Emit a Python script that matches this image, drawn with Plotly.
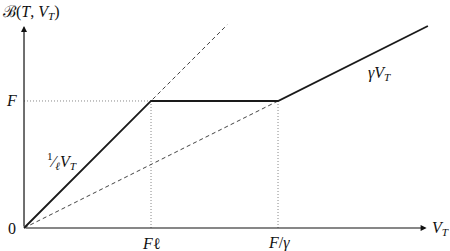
import plotly.graph_objects as go

# Data (model units: F = 1, Fℓ = 1, F/γ = 2)
F_level = 1.0
F_ell = 1.0
F_over_gamma = 2.0
x_end = 3.18
payoff_x = [0.0, F_ell, F_over_gamma, x_end]
payoff_y = [0.0, F_level, F_level, 1.59]
steep_x = [0.0, 1.6]
steep_y = [0.0, 1.6]
shallow_x = [0.0, F_over_gamma]
shallow_y = [0.0, F_level]
x_axis_max = 3.17
y_axis_max = 1.59

FONT = dict(family="Liberation Serif, DejaVu Serif, serif", size=16, color="#111")

fig = go.Figure()
dot = dict(color="#888", width=1, dash="1px,2px")
fig.add_trace(go.Scatter(x=[0, F_ell], y=[F_level, F_level], mode="lines", line=dot, hoverinfo="skip"))
fig.add_trace(go.Scatter(x=[F_ell, F_ell], y=[0, F_level], mode="lines", line=dot, hoverinfo="skip"))
fig.add_trace(go.Scatter(x=[F_over_gamma, F_over_gamma], y=[0, F_level], mode="lines", line=dot, hoverinfo="skip"))
dash = dict(color="#444", width=1, dash="4px,3px")
fig.add_trace(go.Scatter(x=steep_x, y=steep_y, mode="lines", line=dash, hoverinfo="skip"))
fig.add_trace(go.Scatter(x=shallow_x, y=shallow_y, mode="lines", line=dash, hoverinfo="skip"))
fig.add_trace(go.Scatter(x=payoff_x, y=payoff_y, mode="lines",
                         line=dict(color="#1a1a1a", width=1.8), hoverinfo="skip"))

fig.add_annotation(x=x_axis_max, y=0, ax=0, ay=0, xref="x", yref="y", axref="x", ayref="y",
                   showarrow=True, arrowhead=2, arrowsize=1, arrowwidth=1.2, arrowcolor="#111", text="")
fig.add_annotation(x=0, y=y_axis_max, ax=0, ay=0, xref="x", yref="y", axref="x", ayref="y",
                   showarrow=True, arrowhead=2, arrowsize=1, arrowwidth=1.2, arrowcolor="#111", text="")

labels = [
    (-0.18, 1.70, "ℬ(<i>T</i>, <i>V</i><sub><i>T</i></sub>)", "left"),
    (3.2, 0.0, "<i>V</i><sub><i>T</i></sub>", "left"),
    (-0.095, 0.0, "0", "center"),
    (-0.095, F_level, "<i>F</i>", "center"),
    (F_ell, -0.12, "<i>F</i>ℓ", "center"),
    (F_over_gamma + 0.01, -0.12, "<i>F</i>/<i>γ</i>", "center"),
    (0.3, 0.53, "<sup>1</sup>⁄<sub><i>ℓ</i></sub><i>V</i><sub><i>T</i></sub>", "center"),
    (2.8, 1.22, "<i>γV</i><sub><i>T</i></sub>", "center"),
]
for x, y, t, al in labels:
    fig.add_annotation(x=x, y=y, text=t, showarrow=False, font=FONT, xanchor=al, yanchor="middle")

fig.update_layout(
    width=450, height=251, margin=dict(l=0, r=0, t=0, b=0),
    paper_bgcolor="white", plot_bgcolor="white", showlegend=False,
    xaxis=dict(range=[-0.189, 3.354], visible=False, fixedrange=True),
    yaxis=dict(range=[-0.181, 1.795], visible=False, fixedrange=True),
)
fig.write_html("out.html")
